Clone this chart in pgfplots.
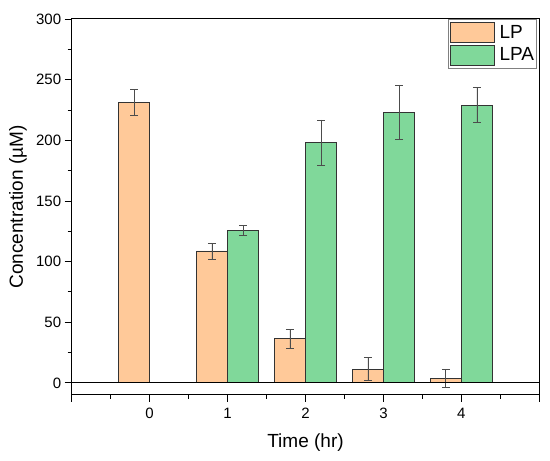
\documentclass[border=0pt]{standalone}
\usepackage{pgfplots}
\pgfplotsset{compat=1.18}
\usepackage{fontspec}
\setmainfont{Liberation Sans}
\definecolor{lpcol}{RGB}{255,201,153}
\definecolor{lpacol}{RGB}{128,216,154}
\pgfplotsset{mylegend/.style={legend image code/.code={\path[draw=none, fill=none] (0pt,-11.2pt) rectangle (48.5pt,11.2pt);
     \draw[##1, line width=0.8pt] (0pt,-10pt) rectangle (44pt,10pt);}}}
\begin{document}
\begin{tikzpicture}
\begin{axis}[
  scale only axis,
  width=467.6pt, height=376pt,
  xmin=-1, xmax=5, ymin=-10, ymax=300,
  xtick={-1,0,1,2,3,4,5},
  xticklabels={,0,1,2,3,4,},
  minor x tick num=1,
  ytick={0,50,100,150,200,250,300},
  minor y tick num=1,
  xtick pos=bottom, ytick pos=left,
  tick align=outside,
  major tick length=7pt, minor tick length=4pt,
  tick style={black, line width=0.8pt},
  axis line style={black, line width=1pt},
  /pgf/number format/assume math mode=true,
  tick label style={font=\fontsize{15}{18}\selectfont},
  xticklabel style={yshift=-2.5pt},
  xlabel={Time (hr)},
  ylabel={Concentration (µM)},
  label style={font=\fontsize{19}{23}\selectfont},
  xlabel style={at={(axis description cs:0.5,-0.1277)}, anchor=center},
  ylabel style={at={(axis description cs:-0.1148,0.5)}, anchor=center},
  legend style={at={(1,1)}, anchor=north east, xshift=-2.3pt,
    draw=gray, line width=0.6pt, font=\fontsize{19}{23}\selectfont,
    inner sep=2.2pt, row sep=0pt, column sep=0pt,
    nodes={inner sep=0.5pt}, cells={anchor=west}},
  error bars/error bar style={line width=0.6pt, color=black!70},
  error bars/error mark options={rotate=90, mark size=4pt, line width=0.6pt, color=black!70},
]
\addplot[ybar, mylegend, bar width=0.4, bar shift=0, fill=lpcol, draw=black!80, line width=0.8pt,
  error bars/.cd, y dir=both, y explicit]
  coordinates {
  (-0.2,231.5) +- (0,10.7)
  (0.8,108.8) +- (0,6.6)
  (1.8,36.4) +- (0,7.6)
  (2.8,11.3) +- (0,9.5)
  (3.8,4.0) +- (0,7.4)
  };
\addlegendentry{LP}
\addplot[ybar, mylegend, bar width=0.4, bar shift=0, fill=lpacol, draw=black!80, line width=0.8pt,
  error bars/.cd, y dir=both, y explicit]
  coordinates {
  (1.2,125.7) +- (0,4.4)
  (2.2,198.2) +- (0,18.6)
  (3.2,223.2) +- (0,22.5)
  (4.2,229.0) +- (0,14.5)
  };
\addlegendentry{LPA}
\addplot[black, line width=1pt, forget plot] coordinates {(-1,0) (5,0)};
\end{axis}
\path ([shift={(-71.7pt,-66pt)}]current axis.south west) rectangle ([shift={(10.7pt,19pt)}]current axis.north east);
\end{tikzpicture}
\end{document}
